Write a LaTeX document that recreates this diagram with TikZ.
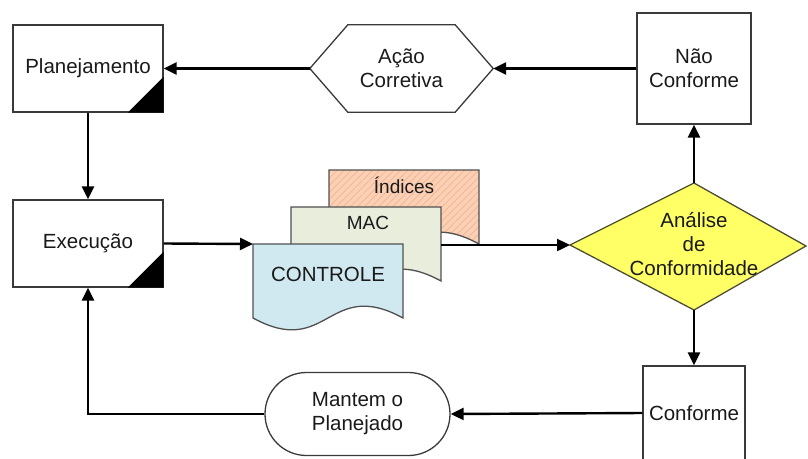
\documentclass[tikz,border=0pt]{standalone}
\usepackage{fontspec}
\setmainfont{Liberation Sans}
\usetikzlibrary{arrows.meta,shapes.misc,patterns.meta}

\definecolor{boxline}{HTML}{3A3A3A}
\definecolor{txt}{HTML}{1A1A1A}
\definecolor{indfill}{HTML}{FCD0B4}
\definecolor{indhatch}{HTML}{EEB596}
\definecolor{macfill}{HTML}{E8EDDC}
\definecolor{ctlfill}{HTML}{D0E8F0}
\definecolor{docline}{HTML}{505050}
\definecolor{anafill}{HTML}{FFFF66}
\definecolor{analine}{HTML}{4D4D33}

\newcommand\mainfs{\fontsize{20.5}{24}\selectfont}
\newcommand\docfs{\fontsize{19}{22}\selectfont}

\begin{document}
\begin{tikzpicture}[x=1pt,y=-1pt,
  box/.style={draw=boxline, line width=1.3pt, fill=white, text=txt,
    font=\mainfs, align=center, inner sep=0pt},
  label/.style={text=txt, font=\mainfs, align=center, inner sep=0pt},
  doclabel/.style={text=txt, font=\docfs, inner sep=0pt},
  outline/.style={draw=boxline, line width=1.3pt},
  docshape/.style={draw=docline, line width=1.3pt},
  arr/.style={draw=black, line width=2.4pt,
    -{Triangle[length=13pt,width=12pt]}},
  corner/.style={fill=black}]

\useasboundingbox (0,0) rectangle (808,458);
\clip (0,0) rectangle (808,458);

% process boxes
\node[box, minimum width=150, minimum height=87] (plan) at (88,68.5) {Planejamento};
\fill[corner] (plan.south east) -- ++(-36,0) -- ++(36,-36) -- cycle;

\node[box, minimum width=150, minimum height=87] (exe) at (88,243.5) {Execução};
\fill[corner] (exe.south east) -- ++(-36,0) -- ++(36,-36) -- cycle;

\node[box, minimum width=114, minimum height=111] (nao) at (694,68.5) {Não\\Conforme};
\node[box, minimum width=102, minimum height=94] (conf) at (694,413) {Conforme};

% terminator
\node[box, rounded rectangle, minimum width=185, minimum height=83] (man)
  at (357.5,414) {Mantem o\\Planejado};

% hexagon: corrective action
\node[label, minimum width=183, minimum height=87] (acao) at (401.5,68.5) {Ação\\Corretiva};
\draw[outline] (acao.west) -- ([xshift=38]acao.north west)
  -- ([xshift=-38]acao.north east) -- (acao.east)
  -- ([xshift=-38]acao.south east) -- ([xshift=38]acao.south west) -- cycle;

% decision diamond
\coordinate (anaW) at (570,245);
\coordinate (anaN) at (694,183);
\coordinate (anaE) at (806,246);
\coordinate (anaS) at (694,310);
\filldraw[fill=anafill, draw=analine, line width=1.3pt]
  (anaW) -- (anaN) -- (anaE) -- (anaS) -- cycle;
\node[label] (ana) at (694,244) {Análise\\de\\Conformidade};

% stacked documents
\filldraw[docshape, preaction={fill=indfill},
  pattern={Lines[angle=45,distance=5pt,line width=0.7pt]}, pattern color=indhatch]
  (329,170) -- (479,170) -- (479,244)
  .. controls (404,203) and (404,285) .. (329,244) -- cycle;
\node[doclabel] (ind) at (404,185) {Índices};

\filldraw[docshape, fill=macfill]
  (291,207) -- (441,207) -- (441,281)
  .. controls (366,240) and (366,322) .. (291,281) -- cycle;
\node[doclabel] (mac) at (368,223) {MAC};

\filldraw[docshape, fill=ctlfill]
  (253,244) -- (403,244) -- (403,318)
  .. controls (328,277) and (328,359) .. (253,318) -- cycle;
\node[label] (ctltext) at (328,274) {CONTROLE};

\coordinate (ctl) at (253,244);
\coordinate (macE) at (441,245);

% connectors
\draw[arr] (plan) -- (exe);
\draw[arr] (exe.east) -- (ctl);
\draw[arr] (macE) -- (anaW);
\draw[arr] (anaN) -- (nao.south);
\draw[arr] (anaS) -- (conf.north);
\draw[arr] (nao.west) -- (acao.east);
\draw[arr] (acao.west) -- (plan.east);
\draw[arr] (conf.west) -- (man.east);
\draw[arr] (man.west) -| (exe.south);

\end{tikzpicture}
\end{document}
